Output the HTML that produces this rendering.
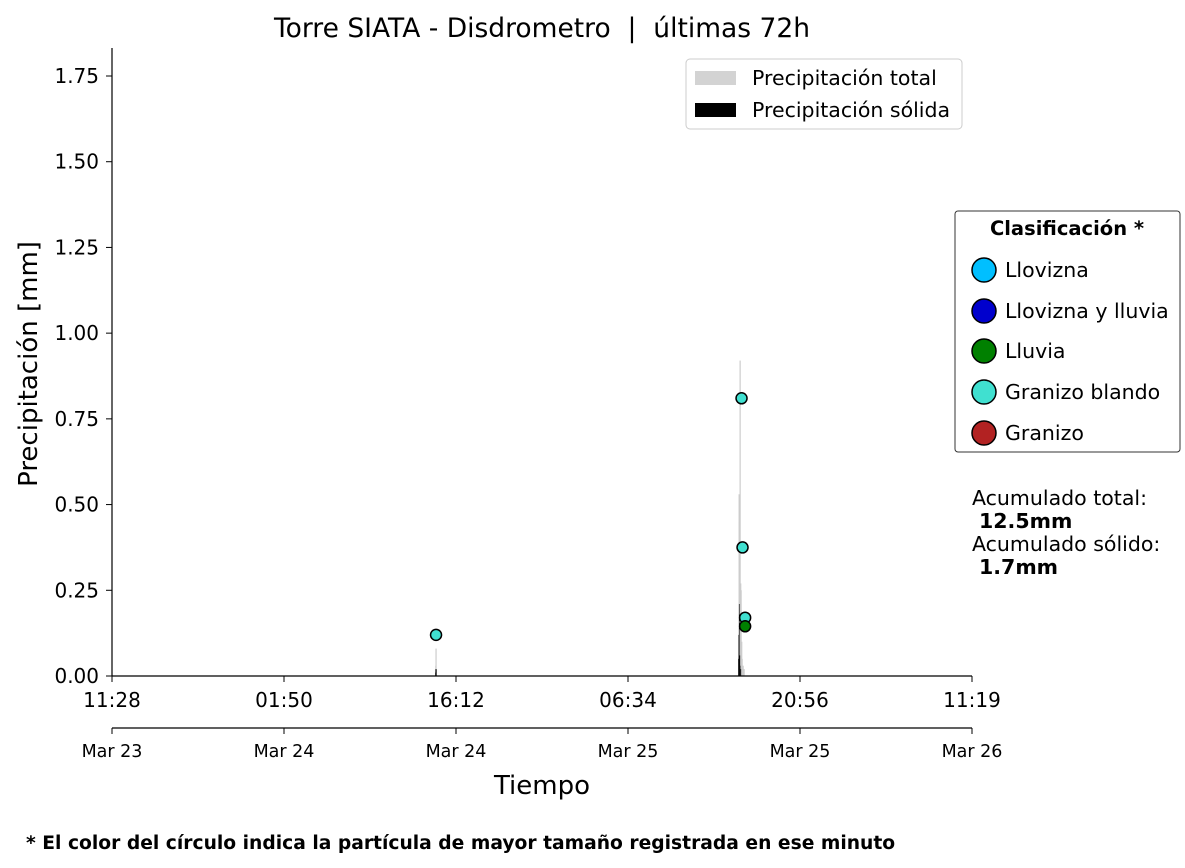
<!DOCTYPE html>
<html><head><meta charset="utf-8"><style>
body{margin:0;background:#fff;}
svg{display:block;font-family:"DejaVu Sans","Liberation Sans",sans-serif;}
</style></head><body>
<svg id="chart" width="1185" height="868" viewBox="0 0 1185 868">
<text x="542" y="37" font-size="26.5" text-anchor="middle" xml:space="preserve">Torre SIATA - Disdrometro  |  últimas 72h</text>
<g id="bars"></g>
<g id="points"></g>
<g id="axes"></g>
<text transform="translate(37,364) rotate(-90)" font-size="26" text-anchor="middle">Precipitación [mm]</text>
<text x="542" y="794" font-size="26" text-anchor="middle">Tiempo</text>
<g>
<rect x="686" y="59" width="276" height="70" rx="4" fill="#fff" stroke="#ccc"/>
<rect x="695" y="71" width="41" height="14" fill="#d3d3d3"/>
<text x="752" y="85" font-size="20.5">Precipitación total</text>
<rect x="695" y="103" width="41" height="14" fill="#000"/>
<text x="752" y="117" font-size="20.5">Precipitación sólida</text>
</g>
<g>
<rect x="955" y="211" width="225" height="241" rx="3" fill="#fff" stroke="#333"/>
<text x="1067" y="235" font-size="19.5" font-weight="bold" text-anchor="middle">Clasificación *</text>
<circle cx="984" cy="270" r="12" fill="#00bfff" stroke="#000" stroke-width="1.5"/><text x="1005" y="277" font-size="20.5">Llovizna</text>
<circle cx="984" cy="311" r="12" fill="#0000cd" stroke="#000" stroke-width="1.5"/><text x="1005" y="318" font-size="20.5">Llovizna y lluvia</text>
<circle cx="984" cy="351" r="12" fill="#008000" stroke="#000" stroke-width="1.5"/><text x="1005" y="358" font-size="20.5">Lluvia</text>
<circle cx="984" cy="392" r="12" fill="#40e0d0" stroke="#000" stroke-width="1.5"/><text x="1005" y="399" font-size="20.5">Granizo blando</text>
<circle cx="984" cy="433" r="12" fill="#b22222" stroke="#000" stroke-width="1.5"/><text x="1005" y="440" font-size="20.5">Granizo</text>
</g>
<g font-size="20.5">
<text x="972" y="505">Acumulado total:</text>
<text x="979" y="528" font-weight="bold">12.5mm</text>
<text x="972" y="551">Acumulado sólido:</text>
<text x="979" y="574" font-weight="bold">1.7mm</text>
</g>
<text x="26" y="849" font-size="18.7" font-weight="bold">* El color del círculo indica la partícula de mayor tamaño registrada en ese minuto</text>
</svg>
<script>
const barMinutes=[1623,1624,3141,3143,3145,3148,3151,3153,3156,3158,3163,3168];
const totalValues=[0.03,0.08,0.12,0.53,0.45,0.92,0.27,0.25,0.10,0.05,0.03,0.02];
const solidValues=[0.01,0.02,0.05,0.12,0.21,0.06,0.03,0.02,0,0,0,0];
const pointMinutes=[1624,3155,3160,3173,3173];
const pointValues=[0.12,0.81,0.375,0.17,0.145];
const pointColors=["#40e0d0","#40e0d0","#40e0d0","#40e0d0","#008000"];
const yTicks=[0,0.25,0.5,0.75,1.0,1.25,1.5,1.75];
const timeLabels=["11:28","01:50","16:12","06:34","20:56","11:19"];
const dateLabels=["Mar 23","Mar 24","Mar 24","Mar 25","Mar 25","Mar 26"];
const NS="http://www.w3.org/2000/svg";
const xS=m=>112+m*(172/862);
const yS=v=>676-v*(600/1.75);
function mk(tag,attrs,parent){const e=document.createElementNS(NS,tag);for(const k in attrs)e.setAttribute(k,attrs[k]);parent.appendChild(e);return e;}
const bars=document.getElementById('bars'),pts=document.getElementById('points'),ax=document.getElementById('axes');
barMinutes.forEach((m,i)=>{
 const r=mk('rect',{x:xS(m)-0.6,y:yS(totalValues[i]),width:1.2,height:676-yS(totalValues[i]),fill:'#cccccc'},bars);
 
 
 if(solidValues[i]>0){
  const s=mk('rect',{x:xS(m)-0.6,y:yS(solidValues[i]),width:1.2,height:676-yS(solidValues[i]),fill:'#000'},bars);
  
  
 }
});
pointMinutes.forEach((m,i)=>{
 const c=mk('circle',{cx:xS(m),cy:yS(pointValues[i]),r:5.5,fill:pointColors[i],stroke:'#000','stroke-width':1.5},pts);
 
 
});
mk('line',{x1:112,y1:48,x2:112,y2:676,stroke:'#000','stroke-width':1.2},ax);
mk('line',{x1:112,y1:676,x2:972,y2:676,stroke:'#000','stroke-width':1.2},ax);
mk('line',{x1:112,y1:728,x2:972,y2:728,stroke:'#000','stroke-width':1.2},ax);
yTicks.forEach(v=>{
 mk('line',{x1:106,y1:yS(v),x2:112,y2:yS(v),stroke:'#000'},ax);
 const t=mk('text',{x:99,y:yS(v)+7,'font-size':20,'text-anchor':'end'},ax);
 t.textContent=v.toFixed(2);
 
 
});
timeLabels.forEach((l,i)=>{
 const x=112+i*172;
 mk('line',{x1:x,y1:676,x2:x,y2:682,stroke:'#000'},ax);
 const t=mk('text',{x:x,y:707,'font-size':20,'text-anchor':'middle'},ax);
 t.textContent=l;
 
 
 mk('line',{x1:x,y1:728,x2:x,y2:734,stroke:'#000'},ax);
 const d=mk('text',{x:x,y:757,'font-size':17.5,'text-anchor':'middle'},ax);
 d.textContent=dateLabels[i];
 
 
});
</script>
</body></html>
